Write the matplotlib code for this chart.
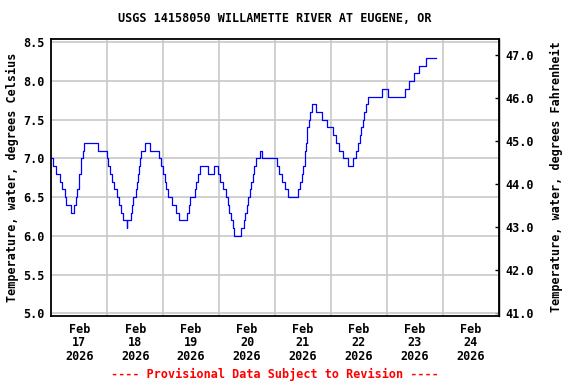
import matplotlib
matplotlib.use("Agg")
import matplotlib.pyplot as plt
import matplotlib.dates as mdates
import matplotlib.ticker as mticker
import numpy as np
import pandas as pd

# step change points: hours after 2026-02-17 00:00, water temperature (deg C)
hours = [0, 0.7, 2.1, 3.6, 4.6, 5.7, 6.4, 8.3, 9.6, 10.7, 11.1, 11.7, 12.1, 12.6, 12.9,
         13.6, 14.0, 20.0, 23.7, 24.3, 25.4, 26.1, 27.1, 28.3, 28.9, 29.7, 30.9, 32.3,
         32.6, 34.0, 34.6, 35.1, 36.3, 36.9, 37.4, 37.7, 38.0, 38.6, 40.3, 42.2, 46.4,
         47.2, 47.9, 48.6, 49.3, 50.0, 51.7, 53.6, 54.7, 58.3, 58.9, 59.5, 61.7, 62.3,
         62.9, 63.7, 67.4, 70.0, 71.4, 72.6, 73.6, 75.0, 75.7, 76.4, 77.2, 77.9, 78.3,
         81.4, 82.9, 83.3, 83.9, 84.6, 85.2, 85.7, 86.4, 87.2, 87.9, 89.6, 90.6, 96.9,
         97.9, 98.9, 100.1, 101.5, 105.9, 106.9, 107.4, 108.1, 108.7, 109.0, 109.4,
         109.7, 109.9, 110.4, 110.9, 111.9, 113.6, 116.1, 118.4, 120.9, 122.3, 123.4,
         125.1, 127.3, 129.4, 130.9, 131.6, 132.3, 133.0, 133.7, 134.4, 134.9, 136.0,
         142.0, 144.4, 151.8, 153.4, 155.6, 157.7, 160.9, 165.3]
temps = [7.0, 6.9, 6.8, 6.7, 6.6, 6.5, 6.4, 6.3, 6.4, 6.5, 6.6, 6.7, 6.8, 6.9, 7.0,
         7.1, 7.2, 7.1, 7.0, 6.9, 6.8, 6.7, 6.6, 6.5, 6.4, 6.3, 6.2, 6.1,
         6.2, 6.3, 6.4, 6.5, 6.6, 6.7, 6.8, 6.9, 7.0, 7.1, 7.2, 7.1, 7.0,
         6.9, 6.8, 6.7, 6.6, 6.5, 6.4, 6.3, 6.2, 6.3, 6.4, 6.5, 6.6, 6.7,
         6.8, 6.9, 6.8, 6.9, 6.8, 6.7, 6.6, 6.5, 6.4, 6.3, 6.2, 6.1, 6.0,
         6.1, 6.2, 6.3, 6.4, 6.5, 6.6, 6.7, 6.8, 6.9, 7.0, 7.1, 7.0, 6.9,
         6.8, 6.7, 6.6, 6.5, 6.6, 6.7, 6.8, 6.9, 7.0, 7.1, 7.2,
         7.3, 7.4, 7.5, 7.6, 7.7, 7.6, 7.5, 7.4, 7.3, 7.2, 7.1,
         7.0, 6.9, 7.0, 7.1, 7.2, 7.3, 7.4, 7.5, 7.6, 7.7, 7.8,
         7.9, 7.8, 7.9, 8.0, 8.1, 8.2, 8.3, 8.3]

title = "USGS 14158050 WILLAMETTE RIVER AT EUGENE, OR"
left_label = "Temperature, water, degrees Celsius"
right_label = "Temperature, water, degrees Fahrenheit"
footer = "---- Provisional Data Subject to Revision ----"
c_ticks = [5.0, 5.5, 6.0, 6.5, 7.0, 7.5, 8.0, 8.5]
f_ticks = [41.0, 42.0, 43.0, 44.0, 45.0, 46.0, 47.0]

start = pd.Timestamp("2026-02-17")
times = start + pd.to_timedelta(hours, unit="h")

plt.rcParams["font.family"] = "DejaVu Sans Mono"
plt.rcParams["font.weight"] = "bold"
plt.rcParams["font.size"] = 8.5

fig = plt.figure(figsize=(5.76, 3.84), dpi=100)
ax = fig.add_axes([51.3 / 576, 1 - 315.7 / 384, (498.7 - 51.3) / 576, (315.7 - 39.3) / 384])

ax.step(times, temps, where="post", color="#0000ff", linewidth=0.9)

ax.set_xlim(start, start + pd.Timedelta(days=8))
ax.set_ylim(4.969, 8.539)

# gridlines at midnight, labels at noon
ax.xaxis.set_minor_locator(mdates.DayLocator())
ax.xaxis.set_major_locator(mdates.HourLocator(byhour=[12]))
ax.xaxis.set_major_formatter(mdates.DateFormatter("%b\n%d\n%Y"))
ax.grid(True, which="minor", axis="x", color="#c8c8c8", linewidth=1.2)
ax.tick_params(axis="x", which="both", length=0, pad=5)
for lbl in ax.get_xticklabels():
    lbl.set_horizontalalignment("center")
    lbl.set_linespacing(1.08)

ax.set_yticks(c_ticks)
ax.yaxis.set_major_formatter(mticker.FormatStrFormatter("%.1f"))
ax.grid(True, which="major", axis="y", color="#c8c8c8", linewidth=1.2)
ax.tick_params(axis="y", length=0, pad=5)

for s in ax.spines.values():
    s.set_linewidth(1.3)
    s.set_color("black")
ax.set_axisbelow(True)

sec = ax.secondary_yaxis("right", functions=(lambda c: c * 1.8 + 32, lambda f: (f - 32) / 1.8))
sec.set_yticks(f_ticks)
sec.yaxis.set_major_formatter(mticker.FormatStrFormatter("%.1f"))
sec.tick_params(axis="y", direction="in", length=3, width=1, pad=5)
sec.spines["right"].set_linewidth(1.0)

fig.text(275 / 576, 1 - 19 / 384, title, ha="center", va="center")
fig.text(12 / 576, 1 - 177 / 384, left_label, rotation=90, ha="center", va="center")
fig.text(556 / 576, 1 - 177 / 384, right_label, rotation=90, ha="center", va="center")
fig.text(275 / 576, 1 - 374 / 384, footer, ha="center", va="center", color="#ff0000")

fig.savefig("out.png", dpi=100)
